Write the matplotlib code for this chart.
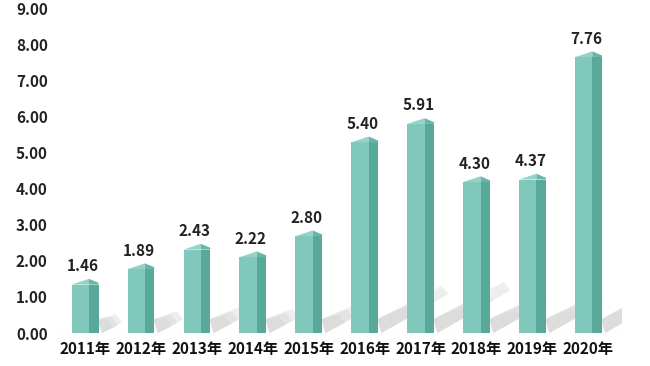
import matplotlib
matplotlib.use("Agg")
import matplotlib.pyplot as plt
import numpy as np

years = ["2011年", "2012年", "2013年", "2014年", "2015年",
         "2016年", "2017年", "2018年", "2019年", "2020年"]
values = [1.46, 1.89, 2.43, 2.22, 2.80, 5.40, 5.91, 4.30, 4.37, 7.76]
yticks = [0, 1, 2, 3, 4, 5, 6, 7, 8, 9]

plt.rcParams['font.family'] = ['Noto Sans CJK SC', 'DejaVu Sans']

fig = plt.figure(figsize=(6.5, 3.66), dpi=100)
ax = fig.add_axes([56/650, 33/366, (622-56)/650, 325/366])

FRONT = "#80c7bc"
SIDE = "#58a99c"
CAP_F = "#95d3c9"
CAP_S = "#6ab5a9"
SHADOW = "#cfcfcf"

x = np.arange(len(values))
fw = 0.31   # front face width
sw = 0.17   # side face width
x0 = x - (fw + sw) / 2
xm = x0 + fw
x1 = xm + sw

# shadows (drawn first, behind bars), fading toward the tip
for xi, v in zip(x1, values):
    dx = 0.21 * v
    dy = 0.20 * v
    th = 0.38
    for k, a in enumerate([0.35, 0.35, 0.3]):
        f = 1.0 - 0.25 * k
        ax.fill([xi - 0.02, xi + dx * f, xi + dx * f + 0.12, xi + 0.06],
                [th, dy * f + th * 0.6, dy * f, 0.0],
                color=SHADOW, alpha=a, lw=0, zorder=1)

cap = 0.12
# front and side faces
ax.bar(x0, [v - cap for v in values], width=fw, align='edge', color=FRONT, lw=0, zorder=3)
ax.bar(xm, [v - cap for v in values], width=sw, align='edge', color=SIDE, lw=0, zorder=3)
# pointed caps
for a, m, b, v in zip(x0, xm, x1, values):
    ax.fill([a, m, m, a], [v - cap, v + 0.04, v - cap, v - cap], color=CAP_F, lw=0, zorder=3)
    ax.fill([m, b, b, m], [v + 0.04, v - cap * 0.6, v - cap, v - cap], color=CAP_S, lw=0, zorder=3)

# value labels
for xi, v in zip(x, values):
    ax.text(xi - 0.04, v + 0.17, f"{v:.2f}", ha='center', va='bottom',
            fontsize=11, fontweight='bold', color='#222222', zorder=4)

ax.axhline(0, color='#ececec', lw=1, zorder=0)

ax.set_xlim(-0.52, 9.6)
ax.set_ylim(0, 9)
ax.set_yticks(yticks)
ax.set_yticklabels([f"{t:.2f}" for t in yticks], fontsize=11, fontweight='bold', color='#222222')
ax.set_xticks(x)
ax.set_xticklabels(years, fontsize=11, fontweight='bold', color='#111111')
ax.tick_params(axis='both', length=0)
ax.tick_params(axis='y', pad=6)
ax.tick_params(axis='x', pad=6)
for s in ax.spines.values():
    s.set_visible(False)

fig.savefig("out.png", dpi=100)
